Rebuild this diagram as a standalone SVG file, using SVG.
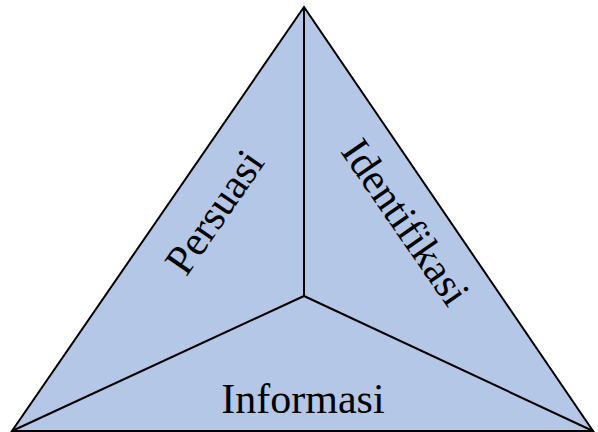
<svg xmlns="http://www.w3.org/2000/svg" width="598" height="432" viewBox="0 0 598 432">
<style>
.face{fill:#B4C7E7;stroke:#000;stroke-width:2;stroke-linejoin:miter}
.edge{stroke:#000;stroke-width:2;fill:none}
.lbl{font-family:"Liberation Serif","DejaVu Serif",serif;font-size:42px;fill:#000;text-anchor:middle}
</style>
<rect width="598" height="432" fill="#fff"/>
<g id="triangle">
<polygon class="face" points="304,7 12,431 593,431"/>
</g>
<g id="connectors">
<line class="edge" x1="304" y1="7" x2="304" y2="296"/>
<line class="edge" x1="304" y1="296" x2="12" y2="431"/>
<line class="edge" x1="304" y1="296" x2="593" y2="431"/>
</g>
<g id="persuasi">
<text class="lbl" transform="translate(226,220) rotate(-55.4)">Persuasi</text>
</g>
<g id="identifikasi">
<text class="lbl" transform="translate(394,230) rotate(55.4)">Identifikasi</text>
</g>
<g id="informasi">
<text class="lbl" x="303" y="413">Informasi</text>
</g>
</svg>
